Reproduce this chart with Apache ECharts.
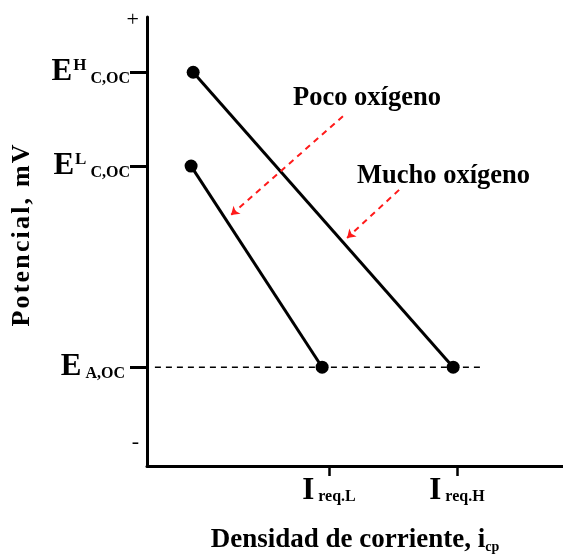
<!DOCTYPE html>
<html>
<head>
<meta charset="utf-8">
<script src="https://cdn.jsdelivr.net/npm/echarts@6/dist/echarts.min.js"></script>
<style>
  html, body { margin: 0; padding: 0; background: #fff; }
  #chart { width: 563px; height: 554px; }
</style>
</head>
<body>
<div id="chart"></div>
<script>
// Potential levels (arbitrary scale 0-100) and current density positions (0-100)
const yTickValues = [22, 66.8, 87.7];
const yTickMain = ['E', 'E', 'E'];
const yTickSup = ['', 'L', 'H'];
const yTickSub = ['A,OC', 'C,OC', 'C,OC'];
const ySignValues = [5.3, 99.3];
const ySignLabels = ['-', '+'];

const xTickValues = [43.75, 74.5];
const xTickMain = ['I', 'I'];
const xTickSub = ['req.L', 'req.H'];

// Cathodic polarization lines: low and high oxygen
const pocoLine = [[10.6, 66.8], [42.1, 22]];
const muchoLine = [[11.1, 87.7], [73.6, 22]];
// Anodic open-circuit potential (dashed)
const anodeLine = [[1.9, 22], [80.8, 22]];

// Annotation arrows and their captions
const arrowPaths = [
  [[47.1, 77.9], [20.2, 55.9]],
  [[60.6, 61.5], [48.1, 50.8]]
];
const captionNames = ['Poco oxígeno', 'Mucho oxígeno'];
const captionPoints = [[53.0, 81.9], [71.4, 64.4]];

const serif = '"Liberation Serif", "Times New Roman", serif';
const hair = '\u200A';

const yLabelMap = {};
yTickValues.forEach((v, i) => {
  yLabelMap[v] = yTickSup[i]
    ? '{e|' + yTickMain[i] + '}{sup|' + yTickSup[i] + '}{sub| ' + yTickSub[i] + '}'
    : '{e|' + yTickMain[i] + '}{sub2| ' + yTickSub[i] + '}';
});
ySignValues.forEach((v, i) => { yLabelMap[v] = '{pm|' + ySignLabels[i] + '}'; });

const xLabelMap = {};
xTickValues.forEach((v, i) => {
  xLabelMap[v] = '{i|' + xTickMain[i] + '}{s| ' + xTickSub[i] + '}';
});

const chart = echarts.init(document.getElementById('chart'), null, { renderer: 'canvas' });

chart.setOption({
  animation: false,
  backgroundColor: '#fff',
  grid: { left: 147, right: 0, top: 17, bottom: 88, containLabel: false, outerBoundsMode: 'none' },
  xAxis: {
    type: 'value', min: 0, max: 100,
    splitLine: { show: false },
    axisLine: { show: true, lineStyle: { color: '#000', width: 3 } },
    axisTick: { show: true, customValues: xTickValues, length: 10, lineStyle: { color: '#000', width: 2.5 } },
    axisLabel: {
      show: true, customValues: xTickValues, margin: 11,
      formatter: v => xLabelMap[v] || '',
      rich: {
        i: { fontFamily: serif, fontWeight: 'bold', fontSize: 31, lineHeight: 28, color: '#000' },
        s: { fontFamily: serif, fontWeight: 'bold', fontSize: 16, lineHeight: 14, verticalAlign: 'bottom', color: '#000' }
      }
    },
    name: '{n|Densidad de corriente, i}{c|cp}',
    nameLocation: 'middle', nameGap: 60,
    nameTextStyle: {
      rich: {
        n: { fontFamily: serif, fontWeight: 'bold', fontSize: 27, lineHeight: 28, color: '#000' },
        c: { fontFamily: serif, fontWeight: 'bold', fontSize: 14, lineHeight: 14, verticalAlign: 'bottom', color: '#000' }
      }
    }
  },
  yAxis: {
    type: 'value', min: 0, max: 100,
    splitLine: { show: false },
    axisLine: { show: true, lineStyle: { color: '#000', width: 3 } },
    axisTick: { show: true, customValues: yTickValues, length: 17, lineStyle: { color: '#000', width: 3 } },
    axisLabel: {
      show: true, customValues: yTickValues.concat(ySignValues), margin: 6,
      formatter: v => yLabelMap[v] || '',
      rich: {
        e: { fontFamily: serif, fontWeight: 'bold', fontSize: 31, lineHeight: 30, color: '#000' },
        sup: { fontFamily: serif, fontWeight: 'bold', fontSize: 17, lineHeight: 17, verticalAlign: 'top', color: '#000', padding: [0, 0, 0, 1] },
        sub: { fontFamily: serif, fontWeight: 'bold', fontSize: 16, lineHeight: 14, verticalAlign: 'bottom', color: '#000', padding: [0, 11, 0, 0] },
        sub2: { fontFamily: serif, fontWeight: 'bold', fontSize: 16, lineHeight: 14, verticalAlign: 'bottom', color: '#000', padding: [0, 16, 0, 0] },
        pm: { fontFamily: serif, fontSize: 22, color: '#000', padding: [0, 2, 0, 0] }
      }
    },
    name: 'Potencial, mV'.split('').join(hair),
    nameLocation: 'middle', nameGap: 112,
    nameTextStyle: { fontFamily: serif, fontWeight: 'bold', fontSize: 26, color: '#000', padding: [0, 0, 0, 12] }
  },
  series: [
    {
      name: 'Poco oxígeno', type: 'line', data: pocoLine,
      symbol: 'circle', symbolSize: 13, showSymbol: true,
      lineStyle: { color: '#000', width: 3 }, itemStyle: { color: '#000' }, z: 3
    },
    {
      name: 'Mucho oxígeno', type: 'line', data: muchoLine,
      symbol: 'circle', symbolSize: 13, showSymbol: true,
      lineStyle: { color: '#000', width: 3 }, itemStyle: { color: '#000' }, z: 3
    },
    {
      name: 'EA', type: 'line', data: anodeLine, symbol: 'none',
      lineStyle: { color: '#000', width: 1.5, type: [6, 5] }, z: 2
    },
    {
      type: 'lines', coordinateSystem: 'cartesian2d',
      symbol: ['none', 'arrow'], symbolSize: 8,
      lineStyle: { color: '#ff1a1a', width: 2, type: [6, 5], opacity: 1 },
      data: arrowPaths.map(p => ({ coords: p })), z: 4
    },
    {
      type: 'scatter', symbolSize: 1, itemStyle: { color: 'rgba(255,255,255,0)' },
      data: captionNames.map((n, i) => ({ value: captionPoints[i], name: n })),
      label: {
        show: true, position: [0, 0], align: 'center', verticalAlign: 'middle', formatter: '{b}',
        fontFamily: serif, fontWeight: 'bold', fontSize: 26.5, color: '#000', opacity: 1
      },
      emphasis: { disabled: true },
      z: 5
    }
  ]
});
</script>
</body>
</html>
